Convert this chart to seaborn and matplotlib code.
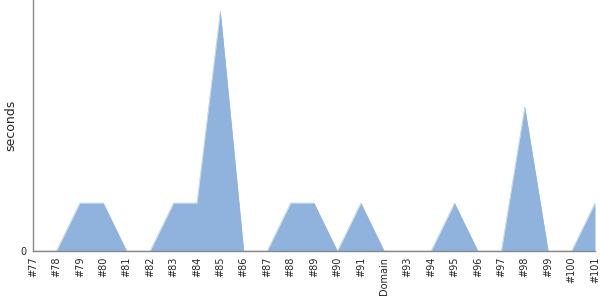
import matplotlib
matplotlib.use("Agg")
import matplotlib.pyplot as plt
import seaborn as sns
import pandas as pd
import numpy as np

categories = ["#77", "#78", "#79", "#80", "#81", "#82", "#83", "#84", "#85", "#86",
              "#87", "#88", "#89", "#90", "#91", "Domain", "#93", "#94", "#95", "#96",
              "#97", "#98", "#99", "#100", "#101"]
values = [0, 0, 1, 1, 0, 0, 1, 1, 5, 0, 0, 1, 1, 0, 1, 0, 0, 0, 1, 0, 0, 3, 0, 0, 1]

sns.set_style("white")
plt.rcParams['font.family'] = ['DejaVu Sans']

df = pd.DataFrame({"cat": categories, "val": values, "pos": np.arange(len(categories))})

fig = plt.figure(figsize=(6, 3), dpi=100)
ax = fig.add_axes([33/600, 49/300, 562/600, 251/300])
color = "#8fb3dc"
sns.lineplot(data=df, x="pos", y="val", ax=ax, color=color, linewidth=0.3)
ax.fill_between(df["pos"], 0, df["val"], color=color, linewidth=0)
ax.set_xlim(0, len(categories) - 1)
ax.set_ylim(0, 5.23)
ax.set_xticks(df["pos"])
ax.set_xticklabels(categories, rotation=90, fontsize=7)
ax.set_yticks([0])
ax.set_yticklabels(["0"], fontsize=7)
ax.set_xlabel("")
ax.set_ylabel("seconds", fontsize=9, labelpad=2)
for s in ["top", "right"]:
    ax.spines[s].set_visible(False)
for s in ["left", "bottom"]:
    ax.spines[s].set_color("#888888")
    ax.spines[s].set_linewidth(1)
ax.tick_params(axis="y", length=3, width=1, color="#888888", pad=2)
ax.tick_params(axis="x", length=0, pad=4)
fig.savefig("out.png", dpi=100)
